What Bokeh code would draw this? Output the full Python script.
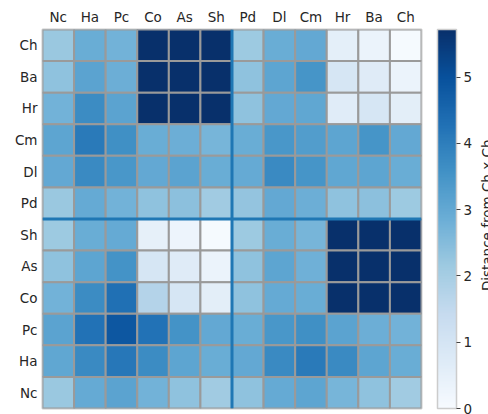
from math import pi
from bokeh.plotting import figure
from bokeh.layouts import row
from bokeh.core.properties import value
from bokeh.models import ColumnDataSource, LinearColorMapper, ColorBar, FixedTicker, Span, Range1d
from bokeh.palettes import Blues256
from bokeh.embed import file_html
from bokeh.resources import INLINE

# ---- data ----
labels = ["Nc", "Ha", "Pc", "Co", "As", "Sh", "Pd", "Dl", "Cm", "Hr", "Ba", "Ch"]
cbar_ticks = [0, 1, 2, 3, 4, 5]
cbar_max = 5.72
cbar_title = "Distance from Ch x Ch"

# each row lists values for columns Nc..Ch (cells above the scale max are saturated)
row_Ch = [2.2, 2.9, 2.75, 6.0, 6.0, 6.0, 2.15, 2.9, 3.0, 0.55, 0.35, 0.05]
row_Ba = [2.35, 3.15, 2.85, 6.0, 6.0, 6.0, 2.35, 3.1, 3.5, 0.95, 0.7, 0.35]
row_Hr = [2.75, 3.7, 3.15, 6.0, 6.0, 6.0, 2.35, 3.0, 3.05, 0.65, 0.95, 0.6]
row_Cm = [3.1, 4.1, 3.6, 2.9, 2.85, 2.7, 2.9, 3.45, 3.3, 3.1, 3.5, 3.0]
row_Dl = [3.0, 3.75, 3.45, 3.0, 3.15, 2.9, 2.95, 3.75, 3.5, 3.05, 3.1, 2.9]
row_Pd = [2.2, 2.95, 2.75, 2.35, 2.4, 2.1, 2.3, 3.0, 2.85, 2.35, 2.4, 2.15]
row_Sh = [2.15, 2.9, 2.95, 0.5, 0.3, 0.05, 2.15, 2.9, 2.7, 6.0, 6.0, 6.0]
row_As = [2.35, 3.1, 3.55, 0.95, 0.7, 0.35, 2.35, 3.1, 2.8, 6.0, 6.0, 6.0]
row_Co = [2.75, 3.7, 4.3, 1.75, 0.95, 0.6, 2.35, 2.95, 2.9, 6.0, 6.0, 6.0]
row_Pc = [3.15, 4.25, 4.85, 4.25, 3.55, 3.0, 2.9, 3.45, 3.6, 3.15, 2.85, 2.75]
row_Ha = [3.05, 3.75, 4.15, 3.7, 3.1, 2.9, 3.0, 3.75, 4.1, 3.75, 3.1, 2.9]
row_Nc = [2.2, 2.95, 3.15, 2.75, 2.35, 2.1, 2.35, 2.95, 3.1, 2.7, 2.35, 2.1]

rows = {"Ch": row_Ch, "Ba": row_Ba, "Hr": row_Hr, "Cm": row_Cm, "Dl": row_Dl,
        "Pd": row_Pd, "Sh": row_Sh, "As": row_As, "Co": row_Co, "Pc": row_Pc,
        "Ha": row_Ha, "Nc": row_Nc}
split_after = "Sh"  # blue separators between Sh and Pd

xs, ys, vs = [], [], []
for rname, vals in rows.items():
    for cname, v in zip(labels, vals):
        xs.append(cname)
        ys.append(rname)
        vs.append(v)
src = ColumnDataSource(dict(x=xs, y=ys, v=vs))

TXT = "#262626"
FONT = "DejaVu Sans"
FS = "13.5px"

palette = list(reversed(Blues256))
mapper = LinearColorMapper(palette=palette, low=0, high=cbar_max, high_color=palette[-1])

p = figure(x_range=labels, y_range=labels, x_axis_location="above",
           frame_width=379, frame_height=379,
           min_border_left=42, min_border_top=29, min_border_bottom=6, min_border_right=57,
           output_backend="svg", toolbar_location=None)

p.rect(x="x", y="y", width=1, height=1, source=src,
       fill_color={"field": "v", "transform": mapper},
       line_color="#9a9a9a", line_width=2)

sep = labels.index(split_after) + 1
p.add_layout(Span(location=sep, dimension="height", line_color="#1f77b4", line_width=3))
p.add_layout(Span(location=sep, dimension="width", line_color="#1f77b4", line_width=3))

for ax in (p.xaxis[0], p.yaxis[0]):
    ax.axis_line_color = None
    ax.major_tick_line_color = None
    ax.minor_tick_line_color = None
    ax.major_tick_out = 0
    ax.major_tick_in = 0
    ax.major_label_text_font = FONT
    ax.major_label_text_font_size = FS
    ax.major_label_text_color = TXT
    ax.major_label_standoff = 5
p.grid.grid_line_color = None
p.outline_line_color = "#cccccc"
p.outline_line_width = 2

cb = ColorBar(color_mapper=mapper, ticker=FixedTicker(ticks=cbar_ticks),
              width=19, height=379, location=(16, 0), margin=0, padding=0,
              major_tick_out=4, major_tick_in=0, major_tick_line_color="#444444",
              minor_tick_line_color=None,
              bar_line_color="#cccccc", bar_line_width=1.5,
              label_standoff=3, major_label_text_font=FONT,
              major_label_text_font_size=FS, major_label_text_color=TXT,
              border_line_color=None, background_fill_color=None)
p.add_layout(cb, "right")

# narrow strip on the right holding the colour-bar title (cut by the window edge, as in the reference)
t = figure(width=10, height=414, x_range=Range1d(0, 10), y_range=Range1d(0, 414),
           min_border_left=0, min_border_right=0, min_border_top=0, min_border_bottom=0,
           output_backend="svg", toolbar_location=None)
t.axis.visible = False
t.grid.grid_line_color = None
t.outline_line_color = None
t.text(x=[8], y=[211], text=[cbar_title], angle=pi / 2,
       text_align="center", text_baseline="middle",
       text_font=value(FONT), text_font_size=value(FS), text_color=TXT)

layout = row(p, t, spacing=0)
open("out.html", "w").write(file_html(layout, INLINE))
